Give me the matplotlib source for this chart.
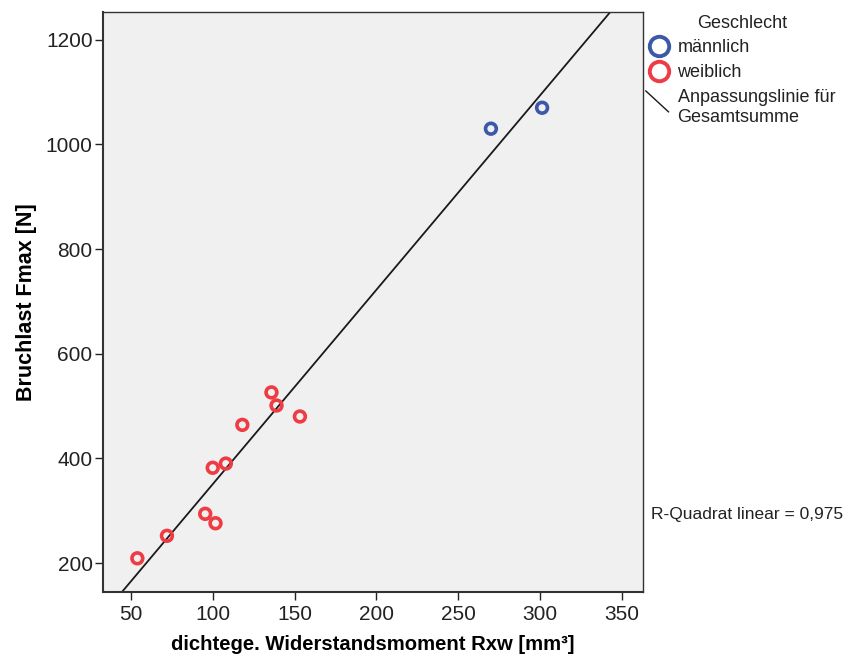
import numpy as np
import matplotlib
matplotlib.use("Agg")
import matplotlib.pyplot as plt
from matplotlib.lines import Line2D
from matplotlib.legend_handler import HandlerLine2D

plt.rcParams['font.family'] = ['Liberation Sans', 'DejaVu Sans']

# Data
male_x = [270.0, 301.3]
male_y = [1030, 1070]
female_x = [53.8, 71.9, 95.3, 101.6, 99.9, 107.9, 118.0, 135.8, 138.9, 153.2]
female_y = [209, 252, 294, 276, 382, 390, 464, 526, 501, 480]
x_ticks = [50, 100, 150, 200, 250, 300, 350]
y_ticks = [200, 400, 600, 800, 1000, 1200]

fig = plt.figure(figsize=(8.49, 6.66), dpi=100)
ax = fig.add_axes([103/849, 1-592/666, (643-103)/849, (592-12)/666])
ax.set_facecolor('#F0F0F0')
ax.set_xlim(32.8, 363)
ax.set_ylim(144.6, 1253)

all_x = np.array(male_x + female_x)
all_y = np.array(male_y + female_y)
slope, intercept = np.polyfit(all_x, all_y, 1)
xs = np.array([0, 400])
ax.plot(xs, slope * xs + intercept, color='#1a1a1a', lw=1.3, zorder=2)

red = '#EE3B44'
blue = '#3C58A8'
ax.scatter(male_x, male_y, s=60, facecolors='none', edgecolors=blue, linewidths=2.6, zorder=3)
ax.scatter(female_x, female_y, s=60, facecolors='none', edgecolors=red, linewidths=2.6, zorder=3)

ax.set_xticks(x_ticks)
ax.set_yticks(y_ticks)
ax.tick_params(direction='out', length=5.5, width=1, labelsize=15, colors='#222222', pad=2)
ax.tick_params(axis='x', pad=4)
for s in ax.spines.values():
    s.set_color('#333333')
    s.set_linewidth(1.0)
ax.spines['left'].set_linewidth(1.5)
ax.spines['bottom'].set_linewidth(1.5)

ax.set_xlabel('dichtege. Widerstandsmoment Rxw [mm³]', fontsize=14.6, fontweight='bold', labelpad=8)
ax.set_ylabel('Bruchlast Fmax [N]', fontsize=15.5, fontweight='bold', labelpad=6)


class DiagHandler(HandlerLine2D):
    def create_artists(self, legend, orig_handle, xdescent, ydescent, width, height, fontsize, trans):
        line = Line2D([-2, width], [height * 1.8, height * 0.15], color='#1a1a1a', lw=1.0)
        line.set_transform(trans)
        return [line]


h_m = Line2D([], [], marker='o', ls='none', markerfacecolor='none', markeredgecolor=blue, markeredgewidth=2.8, markersize=14)
h_f = Line2D([], [], marker='o', ls='none', markerfacecolor='none', markeredgecolor=red, markeredgewidth=2.8, markersize=14)
h_l = Line2D([], [], color='#1a1a1a', lw=1.0)
leg = fig.legend([h_m, h_f, h_l], ['männlich', 'weiblich', 'Anpassungslinie für\nGesamtsumme'],
                 title='Geschlecht', loc='upper left', bbox_to_anchor=(636/849, 1-2/666),
                 frameon=False, fontsize=13, title_fontsize=13, handlelength=1.1,
                 handletextpad=0.5, borderaxespad=0, labelspacing=0.43, borderpad=0.7,
                 handler_map={h_l: DiagHandler()})
for t in leg.get_texts():
    t.set_color('#222222')
leg.get_title().set_color('#222222')

fig.text(651/849, 1-515/666, 'R-Quadrat linear = 0,975', fontsize=12.5, va='center', ha='left', color='#222222')

fig.savefig('out.png', dpi=100, facecolor='white')
